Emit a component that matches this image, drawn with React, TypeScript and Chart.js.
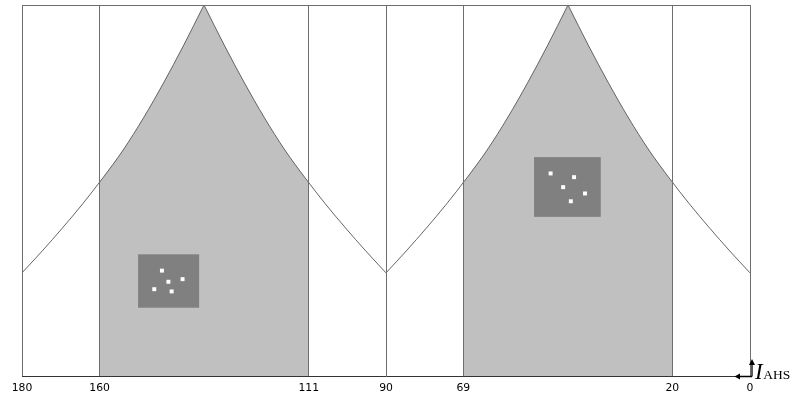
import React, { useEffect, useRef } from "react";
import { Chart, registerables } from "chart.js";

Chart.register(...registerables);

// Angle samples (degrees) and curve intensity (percent of peak)
const angles = [
  0, 5, 10, 15, 20, 25, 30, 35, 40, 45, 50, 55, 60, 65, 70, 75, 80, 85, 90,
  95, 100, 105, 110, 115, 120, 125, 130, 135, 140, 145, 150, 155, 160, 165, 170, 175, 180,
];
const intensity = [
  27.8, 33.7, 39.9, 46.4, 53.4, 60.9, 69.5, 79.0, 89.2, 100, 89.2, 79.0, 69.5, 60.9, 53.4, 46.4, 39.9, 33.7, 27.8,
  33.7, 39.9, 46.4, 53.4, 60.9, 69.5, 79.0, 89.2, 100, 89.2, 79.0, 69.5, 60.9, 53.4, 46.4, 39.9, 33.7, 27.8,
];

// Tick positions (degrees along the axis) and their printed labels
const tickPositions = [180, 160.8, 109.1, 90, 70.9, 19.2, 0];
const tickLabels = ["180", "160", "111", "90", "69", "20", "0"];

// Shaded bands
const bandStarts = [160.8, 70.9];
const bandEnds = [109.1, 19.2];

// Inset boxes (data units)
const insetX0 = [151.3, 53.4];
const insetX1 = [136.2, 36.9];
const insetYTop = [32.8, 59.0];
const insetYBottom = [18.4, 42.9];

// White dots inside the insets
const dotX = [145.4, 143.8, 140.3, 147.3, 143.0, 49.3, 43.5, 46.2, 40.8, 44.3];
const dotY = [28.4, 25.4, 26.1, 23.4, 22.8, 54.6, 53.6, 50.9, 49.2, 47.1];

const axisSymbol = "I";
const axisSubscript = "AHS";

// split the curve into monotone pieces at its local extrema (so the cusps stay sharp)
function monotonePieces(): { x: number; y: number }[][] {
  const cuts: number[] = [0];
  for (let i = 1; i < intensity.length - 1; i++) {
    const a = intensity[i] - intensity[i - 1];
    const b = intensity[i + 1] - intensity[i];
    if (a * b < 0) cuts.push(i);
  }
  cuts.push(intensity.length - 1);
  const pieces: { x: number; y: number }[][] = [];
  for (let k = 0; k < cuts.length - 1; k++) {
    const seg: { x: number; y: number }[] = [];
    for (let i = cuts[k]; i <= cuts[k + 1]; i++) seg.push({ x: angles[i], y: intensity[i] });
    pieces.push(seg);
  }
  return pieces;
}

const overlayPlugin = {
  id: "overlay",
  beforeDatasetsDraw(chart: any) {
    const { ctx, chartArea, scales } = chart;
    const { top, bottom } = chartArea;
    const x = scales.x;
    const y = scales.y;
    ctx.save();
    ctx.beginPath();
    bandStarts.forEach((s, i) => {
      const a = x.getPixelForValue(s);
      const b = x.getPixelForValue(bandEnds[i]);
      ctx.rect(Math.min(a, b), top, Math.abs(b - a), bottom - top);
    });
    ctx.clip();
    ctx.fillStyle = "#c0c0c0";
    chart.data.datasets.forEach((ds: any, di: number) => {
      if (ds.type !== "line") return;
      const pts = chart.getDatasetMeta(di).data;
      if (!pts.length) return;
      ctx.beginPath();
      ctx.moveTo(pts[0].x, bottom);
      ctx.lineTo(pts[0].x, pts[0].y);
      for (let i = 1; i < pts.length; i++) {
        const p = pts[i - 1];
        const q = pts[i];
        if (p.cp2x !== undefined && q.cp1x !== undefined) {
          ctx.bezierCurveTo(p.cp2x, p.cp2y, q.cp1x, q.cp1y, q.x, q.y);
        } else {
          ctx.lineTo(q.x, q.y);
        }
      }
      ctx.lineTo(pts[pts.length - 1].x, bottom);
      ctx.closePath();
      ctx.fill();
    });
    ctx.restore();

    ctx.save();
    ctx.fillStyle = "#808080";
    insetX0.forEach((v, i) => {
      const a = x.getPixelForValue(v);
      const b = x.getPixelForValue(insetX1[i]);
      const t = y.getPixelForValue(insetYTop[i]);
      const u = y.getPixelForValue(insetYBottom[i]);
      ctx.fillRect(Math.min(a, b), Math.min(t, u), Math.abs(b - a), Math.abs(u - t));
    });
    ctx.restore();
  },
  afterDraw(chart: any) {
    const { ctx, chartArea } = chart;
    const { top, left, right, bottom } = chartArea;
    ctx.save();
    ctx.strokeStyle = "#6e6e6e";
    ctx.lineWidth = 1;
    ctx.beginPath();
    ctx.moveTo(left, top + 0.5);
    ctx.lineTo(right, top + 0.5);
    ctx.stroke();

    // axis arrow symbol
    const ax = right + 2;
    const ay = bottom + 0.5;
    ctx.strokeStyle = "#000";
    ctx.fillStyle = "#000";
    ctx.lineWidth = 1.3;
    ctx.beginPath();
    ctx.moveTo(ax, ay);
    ctx.lineTo(ax, bottom - 14);
    ctx.moveTo(ax, ay);
    ctx.lineTo(right - 13, ay);
    ctx.stroke();
    ctx.beginPath();
    ctx.moveTo(ax, bottom - 17);
    ctx.lineTo(ax - 3, bottom - 11);
    ctx.lineTo(ax + 3, bottom - 11);
    ctx.closePath();
    ctx.fill();
    ctx.beginPath();
    ctx.moveTo(right - 15.5, ay);
    ctx.lineTo(right - 10, ay - 3);
    ctx.lineTo(right - 10, ay + 3);
    ctx.closePath();
    ctx.fill();

    ctx.textBaseline = "alphabetic";
    ctx.textAlign = "left";
    ctx.font = "italic 23px 'Liberation Serif', serif";
    ctx.fillText(axisSymbol, right + 5, bottom + 2.5);
    ctx.font = "13.5px 'Liberation Serif', serif";
    ctx.fillText(axisSubscript, right + 13.3, bottom + 2.5);
    ctx.restore();
  },
};

export default function App() {
  const canvasRef = useRef<HTMLCanvasElement | null>(null);

  useEffect(() => {
    document.body.style.margin = "0";
    const canvas = canvasRef.current;
    if (!canvas) return;
    const curveSets = monotonePieces().map((seg) => ({
      type: "line" as const,
      data: seg,
      borderColor: "#555",
      borderWidth: 0.9,
      pointRadius: 0,
      fill: false,
      cubicInterpolationMode: "monotone" as const,
    }));
    const chart = new Chart(canvas, {
      type: "line",
      data: {
        datasets: [
          ...curveSets,
          {
            type: "scatter",
            data: dotX.map((a, i) => ({ x: a, y: dotY[i] })),
            backgroundColor: "#ffffff",
            borderWidth: 0,
            pointStyle: "rect",
            pointRadius: 2.8,
            showLine: false,
          } as any,
        ],
      },
      options: {
        responsive: false,
        animation: false,
        devicePixelRatio: 1,
        layout: { padding: { left: 22, right: 43, top: 5, bottom: 0 } },
        plugins: { legend: { display: false }, tooltip: { enabled: false } },
        events: [],
        scales: {
          x: {
            type: "linear",
            min: 0,
            max: 180,
            reverse: true,
            afterBuildTicks: (s: any) => {
              s.ticks = tickPositions.map((v) => ({ value: v }));
            },
            afterFit: (s: any) => {
              s.height = 20;
            },
            ticks: {
              autoSkip: false,
              maxRotation: 0,
              padding: 6,
              color: "#000",
              font: { family: "'DejaVu Sans'", size: 10.8 },
              callback: (_v: any, i: number) => tickLabels[i],
            },
            grid: {
              color: "#6e6e6e",
              lineWidth: 1,
              drawTicks: false,
              z: 1,
            },
            border: { display: true, color: "#333", width: 1, z: 1 },
          },
          y: {
            type: "linear",
            min: 0,
            max: 100,
            display: false,
          },
        },
      },
      plugins: [overlayPlugin],
    });
    return () => chart.destroy();
  }, []);

  return (
    <div style={{ width: 793, height: 396 }}>
      <canvas ref={canvasRef} width={793} height={396} style={{ display: "block" }} />
    </div>
  );
}
